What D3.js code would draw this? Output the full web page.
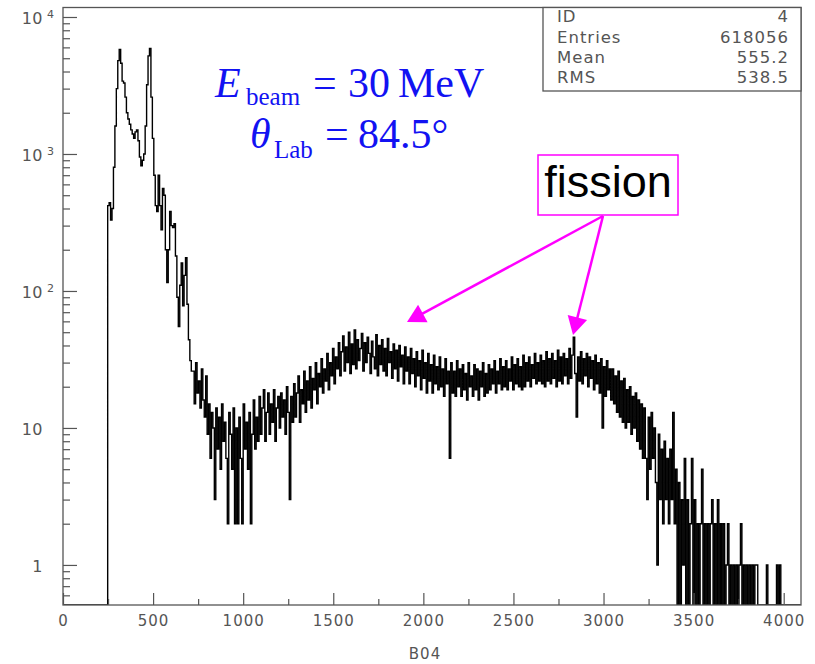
<!DOCTYPE html>
<html>
<head>
<meta charset="utf-8">
<script src="https://cdn.jsdelivr.net/npm/d3@7"></script>
<style>
  body { margin: 0; background: #fff; }
  svg { display: block; }
</style>
</head>
<body>
<svg id="chart" width="815" height="664"></svg>
<script>
// Spectrum B04: counts per 8-channel bin, channels 0..4095
const binWidth = 8;
const counts = [
  0, 0, 0, 0, 0, 0, 0, 0, 0, 0,
  0, 0, 0, 0, 0, 0, 0, 0, 0, 0,
  0, 0, 0, 0, 0, 0, 0, 0, 0, 0,
  0, 420, 440, 330, 400, 800, 1600, 3000, 4800, 5800,
  4600, 3400, 3300, 2600, 2000, 1800, 1650, 1500, 1400, 1300,
  1450, 1500, 1250, 950, 820, 900, 1000, 1600, 3200, 5200,
  5900, 2600, 1300, 700, 420, 380, 700, 420, 280, 560,
  500, 200, 115, 200, 380, 300, 290, 310, 180, 90,
  55, 110, 160, 78, 130, 175, 80, 44, 31, 26,
  26, 15, 30, 18, 22, 14, 27, 16, 12, 24,
  9, 15, 6, 13, 10, 3, 14, 7, 12, 5,
  15, 8, 11, 6, 2, 13, 9, 5, 14, 2,
  10, 2, 12, 6, 2, 15, 7, 11, 5, 13,
  2, 9, 16, 7, 12, 8, 17, 9, 14, 19,
  8, 13, 18, 9, 15, 11, 19, 8, 14, 17,
  10, 18, 12, 16, 9, 20, 13, 3, 17, 11,
  21, 12, 18, 24, 11, 19, 15, 26, 13, 22,
  16, 28, 14, 23, 19, 30, 15, 25, 20, 32,
  18, 27, 22, 35, 19, 30, 24, 38, 21, 33,
  27, 42, 24, 36, 47, 26, 39, 30, 50, 25,
  41, 29, 52, 27, 44, 31, 38, 49, 26, 42,
  30, 46, 35, 25, 43, 33, 27, 48, 24, 40,
  29, 44, 26, 38, 24, 45, 30, 36, 23, 41,
  27, 37, 22, 40, 28, 34, 21, 39, 26, 33,
  21, 38, 25, 32, 20, 36, 24, 31, 19, 37,
  23, 30, 18, 35, 22, 29, 18, 34, 21, 28,
  19, 33, 20, 27, 17, 32, 21, 26, 6, 30,
  18, 26, 17, 31, 20, 27, 17, 29, 19, 25,
  16, 30, 20, 24, 17, 29, 19, 27, 16, 26,
  20, 30, 17, 25, 18, 29, 19, 27, 21, 31,
  18, 26, 21, 32, 19, 28, 20, 31, 19, 27,
  22, 33, 19, 29, 21, 32, 20, 28, 19, 34,
  20, 30, 22, 33, 20, 29, 23, 35, 21, 30,
  22, 34, 21, 31, 20, 36, 22, 32, 21, 35,
  23, 31, 20, 37, 22, 33, 21, 35, 24, 32,
  21, 38, 23, 34, 46, 25, 12, 33, 22, 36,
  21, 32, 24, 35, 20, 33, 23, 31, 19, 34,
  21, 30, 18, 32, 10, 28, 17, 31, 19, 27,
  16, 27, 15, 24, 13, 26, 12, 22, 11, 23,
  10, 19, 11, 20, 9, 17, 10, 18, 8, 16,
  7, 15, 6, 14, 6, 3, 12, 5, 13, 6,
  10, 4, 1, 9, 3, 7, 2, 8, 3, 6,
  2, 7, 3, 13, 2, 5, 0, 4, 0, 3,
  1, 6, 0, 3, 0, 2, 6, 0, 3, 0,
  2, 0, 2, 5, 0, 2, 0, 2, 0, 2,
  3, 0, 2, 0, 3, 0, 2, 0, 2, 0,
  1, 2, 0, 1, 0, 1, 0, 1, 0, 1,
  2, 0, 1, 0, 1, 0, 1, 0, 1, 0,
  1, 1, 0, 0, 0, 0, 0, 0, 1, 0,
  0, 0, 0, 0, 0, 1, 0, 1, 0, 0,
  0, 0, 0, 0, 0, 0, 0, 0, 0, 0,
  0, 0
];

// Axis ticks and labels
const xMajorTicks = [0, 500, 1000, 1500, 2000, 2500, 3000, 3500, 4000];
const xMinorTicks = [250, 750, 1250, 1750, 2250, 2750, 3250, 3750];
const yMajorTicks = [1, 10, 100, 1000, 10000];
const yTickBase = ["1", "10", "10", "10", "10"];
const yTickExponent = ["", "", "2", "3", "4"];
const xAxisTitle = "B04";

// Statistics box
const statsLabels = ["ID", "Entries", "Mean", "RMS"];
const statsValues = ["4", "618056", "555.2", "538.5"];

// Annotation texts
const noteLabel = "fission";

const W = 815, H = 664;
const frame = { left: 63, right: 801, top: 7.5, bottom: 605 };
const xDomain = [0, 4096];
const yDomain = [0.51, 11730];

const svg = d3.select("#chart");
svg.append("rect").attr("width", W).attr("height", H).attr("fill", "#fff");

const x = d3.scaleLinear().domain(xDomain).range([frame.left, frame.right]);
const y = d3.scaleLog().domain(yDomain).range([frame.bottom, frame.top]).clamp(true);

const axisColor = "#555";
const labelFont = "'DejaVu Sans', sans-serif";

// Histogram drawn as a step line; empty bins fall to the bottom edge
const pts = counts.map((c, i) => [i * binWidth, c]);
pts.push([counts.length * binWidth, counts[counts.length - 1]]);

svg.append("clipPath").attr("id", "plotClip")
  .append("rect")
  .attr("x", frame.left).attr("y", frame.top)
  .attr("width", frame.right - frame.left).attr("height", frame.bottom - frame.top);

const line = d3.line()
  .x(d => x(d[0]))
  .y(d => y(d[1] > 0 ? d[1] : yDomain[0]))
  .curve(d3.curveStepAfter);

svg.append("path")
  .datum(pts)
  .attr("clip-path", "url(#plotClip)")
  .attr("d", line)
  .attr("fill", "none")
  .attr("stroke", "#000")
  .attr("stroke-width", 1.4);

// Y axis: major ticks with labels, minor ticks without
const yMinor = y.ticks().filter(v => !yMajorTicks.some(m => Math.abs(m - v) < 1e-9));

const yAxisMinor = d3.axisLeft(y).tickValues(yMinor).tickSize(-7).tickFormat("");
const gYMinor = svg.append("g").attr("transform", `translate(${frame.left},0)`).call(yAxisMinor);
gYMinor.select(".domain").remove();

const yAxisMajor = d3.axisLeft(y)
  .tickValues(yMajorTicks)
  .tickSize(-14)
  .tickPadding(20)
  .tickFormat((d, i) => yTickBase[i]);
const gY = svg.append("g").attr("transform", `translate(${frame.left},0)`).call(yAxisMajor);
gY.select(".domain").remove();
gY.selectAll(".tick text")
  .attr("font-family", labelFont)
  .attr("font-size", 16)
  .attr("letter-spacing", 0.5)
  .attr("fill", axisColor)
  .attr("dy", "0.42em");
gY.selectAll(".tick").each(function (d, i) {
  if (yTickExponent[i]) {
    d3.select(this).append("text")
      .attr("x", -16)
      .attr("y", 1)
      .attr("text-anchor", "start")
      .attr("font-family", labelFont)
      .attr("font-size", 11)
      .attr("fill", axisColor)
      .text(yTickExponent[i]);
  }
});

// X axis
const xAxisMinor = d3.axisBottom(x).tickValues(xMinorTicks).tickSize(-6).tickFormat("");
const gXMinor = svg.append("g").attr("transform", `translate(0,${frame.bottom})`).call(xAxisMinor);
gXMinor.select(".domain").remove();

const xAxisMajor = d3.axisBottom(x).tickValues(xMajorTicks).tickSize(-12).tickPadding(10).tickFormat(d3.format("d"));
const gX = svg.append("g").attr("transform", `translate(0,${frame.bottom})`).call(xAxisMajor);
gX.select(".domain").remove();
gX.selectAll(".tick text")
  .attr("font-family", labelFont)
  .attr("font-size", 15)
  .attr("letter-spacing", 1)
  .attr("fill", axisColor);

svg.selectAll(".tick line").attr("stroke", axisColor).attr("stroke-width", 1.2);

// Frame
svg.append("rect")
  .attr("x", frame.left).attr("y", frame.top)
  .attr("width", frame.right - frame.left).attr("height", frame.bottom - frame.top)
  .attr("fill", "none").attr("stroke", axisColor).attr("stroke-width", 1.3);

// Axis title
svg.append("text")
  .attr("x", 425).attr("y", 659)
  .attr("text-anchor", "middle")
  .attr("font-family", labelFont).attr("font-size", 15).attr("letter-spacing", 1)
  .attr("fill", axisColor)
  .text(xAxisTitle);

// Statistics box
const box = { x: 543, y: frame.top, w: frame.right - 543, h: 83.5 };
svg.append("rect")
  .attr("x", box.x).attr("y", box.y).attr("width", box.w).attr("height", box.h)
  .attr("fill", "#fff").attr("stroke", axisColor).attr("stroke-width", 1.3);
const statBaselines = [22, 42.5, 63, 83];
statsLabels.forEach((lab, i) => {
  svg.append("text")
    .attr("x", 557).attr("y", statBaselines[i])
    .attr("font-family", labelFont).attr("font-size", 16.5).attr("letter-spacing", 1)
    .attr("fill", axisColor).text(lab);
  svg.append("text")
    .attr("x", 789).attr("y", statBaselines[i])
    .attr("text-anchor", "end")
    .attr("font-family", labelFont).attr("font-size", 16.5).attr("letter-spacing", 1)
    .attr("fill", axisColor).text(statsValues[i]);
});

// Beam energy and angle
const blue = "#1212f2";
const serif = "'Liberation Serif', 'Times New Roman', serif";
const l1 = svg.append("text").attr("y", 97).attr("font-family", serif).attr("fill", blue).attr("font-size", 42);
l1.append("tspan").attr("x", 215).attr("font-style", "italic").text("E");
l1.append("tspan").attr("x", 246).attr("dy", 8).attr("font-size", 25).text("beam");
l1.append("tspan").attr("x", 313).attr("dy", -8).text("=");
l1.append("tspan").attr("x", 348).text("30");
l1.append("tspan").attr("x", 398).text("MeV");

const l2 = svg.append("text").attr("y", 148).attr("font-family", serif).attr("fill", blue).attr("font-size", 42);
l2.append("tspan").attr("x", 250).attr("font-style", "italic").text("θ");
l2.append("tspan").attr("x", 274).attr("dy", 10).attr("font-size", 25).text("Lab");
l2.append("tspan").attr("x", 325).attr("dy", -10).text("=");
l2.append("tspan").attr("x", 358).text("84.5°");

// Fission label with arrows
const magenta = "#ff00ff";
svg.append("rect")
  .attr("x", 538).attr("y", 155).attr("width", 140).attr("height", 60)
  .attr("fill", "none").attr("stroke", magenta).attr("stroke-width", 1.5);
svg.append("text")
  .attr("x", 608).attr("y", 197)
  .attr("text-anchor", "middle")
  .attr("font-family", "'Liberation Sans', Arial, sans-serif")
  .attr("font-size", 45)
  .attr("fill", "#000")
  .text(noteLabel);

const arrowStart = [603, 216];
const arrowTips = [[407, 322], [573, 335]];
arrowTips.forEach(tip => {
  const dx = tip[0] - arrowStart[0], dy = tip[1] - arrowStart[1];
  const len = Math.hypot(dx, dy);
  const ux = dx / len, uy = dy / len;
  const headLen = 18, headHalf = 10;
  const bx = tip[0] - ux * headLen, by = tip[1] - uy * headLen;
  svg.append("line")
    .attr("x1", arrowStart[0]).attr("y1", arrowStart[1])
    .attr("x2", bx + ux * 2).attr("y2", by + uy * 2)
    .attr("stroke", magenta).attr("stroke-width", 2.5);
  svg.append("polygon")
    .attr("points", [
      [tip[0], tip[1]],
      [bx - uy * headHalf, by + ux * headHalf],
      [bx + uy * headHalf, by - ux * headHalf]
    ].map(p => p.join(",")).join(" "))
    .attr("fill", magenta);
});
</script>
</body>
</html>
